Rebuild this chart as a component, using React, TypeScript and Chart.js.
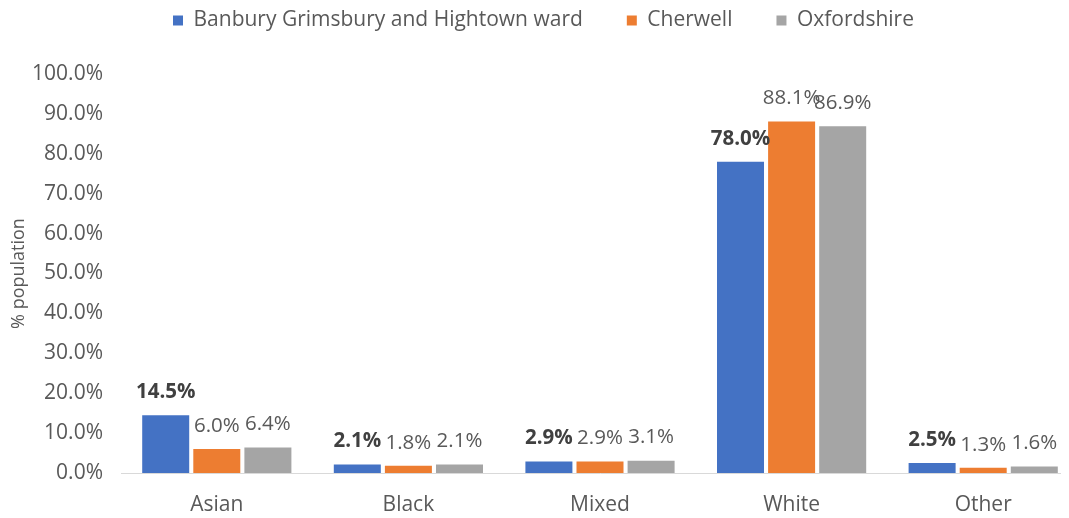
import React, { useEffect, useRef } from "react";
import { Chart, registerables } from "chart.js";

Chart.register(...registerables);

const categories = ["Asian", "Black", "Mixed", "White", "Other"];
const wardValues = [14.5, 2.1, 2.9, 78.0, 2.5];
const cherwellValues = [6.0, 1.8, 2.9, 88.1, 1.3];
const oxfordshireValues = [6.4, 2.1, 3.1, 86.9, 1.6];
const seriesNames = ["Banbury Grimsbury and Hightown ward", "Cherwell", "Oxfordshire"];
const seriesColors = ["#4472C4", "#ED7D31", "#A5A5A5"];
const yTicks = [0, 10, 20, 30, 40, 50, 60, 70, 80, 90, 100];

const FONT = "'Open Sans', 'Noto Sans', sans-serif";
const CANVAS_W = 1075;
const CANVAS_H = 510;

const legendHeightPlugin = {
  id: "legendHeight",
  afterInit(chart: any) {
    const lg = chart.legend;
    if (!lg) return;
    const orig = lg.fit;
    lg.fit = function () {
      orig.call(this);
      this.height = 108;
    };
  },
};

const dataLabelPlugin = {
  id: "dataLabels",
  afterDatasetsDraw(chart: any) {
    const ctx = chart.ctx;
    ctx.save();
    ctx.textAlign = "center";
    ctx.textBaseline = "middle";
    chart.data.datasets.forEach((ds: any, di: number) => {
      const meta = chart.getDatasetMeta(di);
      meta.data.forEach((bar: any, i: number) => {
        const v = ds.data[i];
        ctx.font = (di === 0 ? "bold " : "") + "20.5px " + FONT;
        ctx.fillStyle = di === 0 ? "#404040" : "#595959";
        ctx.fillText(v.toFixed(1) + "%", bar.x, bar.y - 23);
      });
    });
    ctx.restore();
  },
};

export default function App() {
  const ref = useRef<HTMLCanvasElement>(null);
  useEffect(() => {
    if (!ref.current) return;
    const chart = new Chart(ref.current, {
      type: "bar",
      data: {
        labels: categories,
        datasets: [wardValues, cherwellValues, oxfordshireValues].map((d, i) => ({
          label: seriesNames[i],
          data: d,
          backgroundColor: seriesColors[i],
          borderWidth: 0,
          barPercentage: 0.92,
          categoryPercentage: 0.8,
        })),
      },
      options: {
        responsive: false,
        animation: false,
        layout: { padding: { top: -42, left: 0, right: 4, bottom: 0 } },
        plugins: {
          tooltip: { enabled: false },
          legend: {
            position: "top",
            labels: {
              boxWidth: 10,
              boxHeight: 10,
              padding: 44,
              color: "#595959",
              font: { family: FONT, size: 21 },
            },
          },
        },
        scales: {
          x: {
            grid: { display: false, drawTicks: false },
            border: { display: true, color: "#d9d9d9", width: 1 },
            ticks: { color: "#595959", font: { family: FONT, size: 21 }, padding: 19 },
            afterFit: (s: any) => {
              s.height = 45;
            },
          },
          y: {
            min: 0,
            max: 100,
            afterBuildTicks: (s: any) => {
              s.ticks = yTicks.map((v) => ({ value: v }));
            },
            grid: { display: false, drawTicks: false },
            border: { display: false },
            ticks: {
              color: "#595959",
              font: { family: FONT, size: 21 },
              padding: 18,
              callback: (v: any) => Number(v).toFixed(1) + "%",
            },
            title: {
              display: true,
              text: "% population",
              color: "#595959",
              font: { family: FONT, size: 18 },
              padding: 0,
            },
            afterFit: (s: any) => {
              s.width = 113;
            },
          },
        },
      },
      plugins: [legendHeightPlugin, dataLabelPlugin],
    });
    return () => chart.destroy();
  }, []);
  return (
    <div style={{ width: 1061, height: CANVAS_H, overflow: "hidden" }}>
      <canvas ref={ref} width={CANVAS_W} height={CANVAS_H} style={{ display: "block" }} />
    </div>
  );
}
